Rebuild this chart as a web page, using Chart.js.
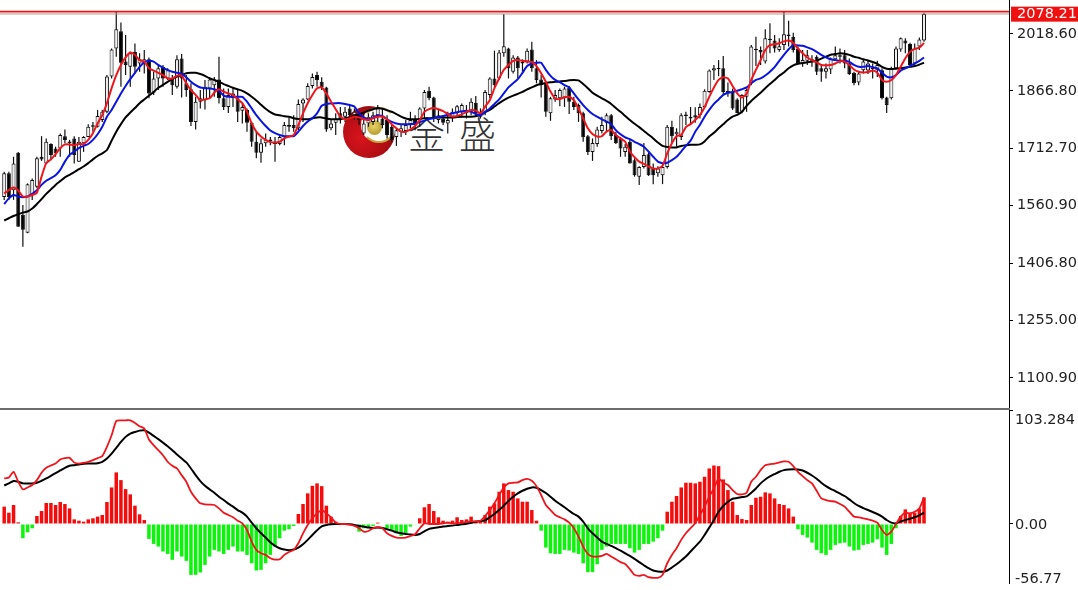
<!DOCTYPE html>
<html>
<head>
<meta charset="utf-8">
<title>K线 MACD</title>
<script src="https://cdn.jsdelivr.net/npm/chart.js@4"></script>
<style>
  html, body { margin: 0; padding: 0; background: #fff; width: 1078px; height: 590px; overflow: hidden; }
  #logo { position: absolute; left: 343px; top: 106px; width: 52px; height: 52px; border-radius: 50%;
          background: radial-gradient(circle at 35% 60%, #d8141c 0%, #b00d14 55%, #6e0a10 100%); }
  #logoCut { position: absolute; left: 361px; top: 107px; width: 36px; height: 36px; border-radius: 50%; background: #fff;
             box-sizing: border-box; border: 2px solid transparent; border-top-color: #c9a93a; border-bottom-color: #c9a93a; }
  #logoBall { position: absolute; left: 367px; top: 120px; width: 15px; height: 15px; border-radius: 50%;
              background: radial-gradient(circle at 45% 40%, #e8d468, #a8891e); }
  .mark { position: absolute; top: 111px; font: 300 37px "Noto Sans CJK SC"; line-height: 44px; color: #333; }
  #pricePane { position: absolute; left: 0; top: 0; width: 1078px; height: 408px; }
  #sep { position: absolute; left: 0; top: 408px; width: 1010px; height: 2px; background: #6d6d6d; }
  #macdPane { position: absolute; left: 0; top: 410px; width: 1078px; height: 174px; overflow: hidden; }
</style>
</head>
<body>
<div id="logo"></div><div id="logoCut"></div><div id="logoBall"></div>
<div class="mark" style="left:408px">金</div>
<div class="mark" style="left:459px">盛</div>
<div id="pricePane"><canvas id="chartPrice" width="1078" height="408"></canvas></div>
<div id="sep"></div>
<div id="macdPane"><canvas id="chartMacd" width="1078" height="177"></canvas></div>

<script>
// --- price pane ---
const highs = [1651,1651,1691,1704,1562,1620,1633,1691,1746,1740,1727,1718,1753,1764,1736,1746,1744,1746,1778,1784,1816,1816,1909,1980,2078,2049,2016,1971,1993,1967,1976,1956,1918,1936,1936,1927,1909,1962,1965,1909,1887,1851,1869,1896,1904,1904,1958,1873,1873,1876,1869,1833,1820,1784,1758,1740,1753,1744,1744,1749,1784,1796,1802,1844,1847,1887,1913,1918,1903,1878,1789,1807,1824,1824,1829,1820,1811,1807,1807,1811,1829,1820,1802,1776,1767,1776,1789,1811,1802,1823,1869,1878,1851,1816,1802,1811,1820,1829,1833,1829,1847,1853,1820,1869,1903,1974,1976,2072,1982,1962,1960,1951,1980,1998,1949,1909,1891,1851,1869,1873,1878,1880,1851,1833,1811,1749,1740,1771,1798,1807,1805,1758,1744,1725,1736,1687,1666,1728,1702,1673,1666,1673,1776,1787,1767,1807,1811,1824,1823,1833,1871,1924,1936,1949,1960,1889,1873,1847,1858,1873,1989,2011,1985,2031,2047,2016,2007,2078,2054,2022,1985,1976,1976,1962,1962,1936,1940,1956,1985,1980,1976,1953,1918,1918,1949,1949,1940,1947,1927,1851,1931,1985,2009,2007,1995,1993,2009,2075];
const lows = [1576,1576,1576,1504,1451,1487,1576,1607,1680,1673,1682,1691,1691,1727,1691,1673,1678,1704,1743,1758,1769,1784,1807,1900,1958,1878,1909,1878,1913,1918,1913,1847,1856,1869,1878,1896,1856,1873,1849,1851,1773,1764,1820,1817,1847,1851,1833,1816,1808,1824,1784,1780,1758,1718,1687,1675,1718,1722,1678,1722,1722,1758,1758,1762,1784,1842,1873,1878,1869,1758,1762,1749,1780,1784,1793,1789,1776,1749,1771,1776,1784,1767,1740,1731,1720,1744,1749,1767,1762,1771,1793,1842,1784,1780,1776,1753,1784,1798,1796,1793,1802,1800,1793,1802,1847,1876,1896,1958,1900,1913,1900,1918,1940,1918,1887,1849,1798,1787,1838,1826,1824,1805,1816,1784,1731,1696,1680,1718,1753,1758,1736,1725,1691,1691,1673,1638,1616,1660,1640,1618,1638,1618,1660,1727,1718,1736,1776,1780,1782,1793,1820,1862,1896,1906,1856,1851,1816,1807,1807,1811,1882,1933,1936,1940,1967,1969,1971,1976,1985,1969,1938,1931,1936,1931,1909,1891,1900,1912,1947,1940,1927,1909,1882,1882,1913,1912,1900,1904,1844,1808,1844,1924,1971,1967,1931,1936,1976,1998];
const opens = [1584,1647,1602,1702,1536,1488,1589,1611,1691,1673,1725,1713,1713,1746,1732,1740,1678,1727,1744,1771,1771,1789,1811,1905,1980,2026,1945,1931,1971,1940,1940,1951,1862,1900,1931,1900,1900,1878,1953,1887,1871,1784,1838,1842,1873,1882,1897,1847,1824,1847,1847,1814,1816,1782,1731,1702,1727,1737,1725,1725,1744,1771,1776,1767,1833,1844,1880,1909,1891,1876,1767,1782,1807,1798,1820,1802,1802,1753,1780,1784,1802,1793,1789,1771,1744,1758,1760,1778,1789,1789,1820,1867,1849,1789,1793,1780,1798,1808,1811,1816,1811,1835,1811,1811,1856,1900,1900,1967,1980,1918,1956,1945,1945,1977,1927,1897,1887,1807,1844,1847,1849,1876,1838,1829,1807,1746,1704,1725,1760,1782,1802,1749,1740,1704,1731,1682,1638,1664,1698,1660,1647,1642,1664,1771,1751,1744,1800,1798,1802,1802,1824,1864,1921,1925,1927,1867,1864,1844,1811,1851,1887,1979,1976,1945,2006,2001,1976,1989,2017,2011,1980,1940,1947,1951,1958,1927,1918,1924,1951,1958,1962,1940,1915,1889,1922,1921,1928,1922,1922,1849,1847,1927,1977,2001,1992,1940,1985,2001];
const closes = [1647,1584,1673,1504,1496,1618,1629,1687,1684,1731,1696,1700,1749,1736,1728,1696,1731,1744,1771,1775,1800,1811,1905,1977,2031,1942,1936,1967,1931,1951,1951,1860,1900,1927,1900,1922,1882,1951,1900,1869,1784,1838,1847,1878,1897,1897,1847,1824,1856,1860,1811,1824,1782,1731,1702,1727,1737,1732,1728,1744,1776,1776,1767,1832,1844,1880,1904,1896,1876,1764,1780,1793,1789,1811,1802,1811,1789,1780,1798,1802,1820,1776,1749,1736,1762,1767,1776,1789,1776,1820,1864,1847,1793,1802,1782,1789,1811,1826,1829,1807,1838,1807,1798,1864,1900,1882,1969,1986,1927,1956,1927,1940,1974,1927,1896,1882,1811,1847,1856,1869,1873,1838,1824,1807,1743,1704,1728,1764,1776,1802,1746,1728,1713,1718,1673,1642,1664,1696,1642,1642,1660,1664,1771,1746,1758,1802,1804,1793,1796,1824,1867,1921,1927,1928,1864,1860,1820,1808,1856,1869,1985,1976,1969,2007,2002,1980,1986,2018,2013,1976,1940,1949,1962,1947,1918,1918,1927,1953,1962,1962,1940,1912,1887,1913,1945,1940,1925,1936,1847,1829,1927,1980,2007,1993,1936,1980,2004,2072];
const maRed = [1593,1602,1609,1601,1585,1585,1589,1595,1638,1674,1684,1698,1714,1724,1724,1722,1725,1725,1736,1754,1780,1802,1834,1874,1909,1936,1956,1969,1963,1949,1945,1927,1921,1915,1909,1900,1900,1907,1907,1887,1869,1856,1842,1844,1847,1862,1871,1865,1860,1856,1844,1834,1811,1780,1758,1745,1736,1730,1729,1731,1740,1745,1749,1776,1807,1834,1856,1874,1876,1860,1838,1818,1798,1791,1794,1798,1796,1791,1789,1794,1798,1798,1791,1778,1767,1758,1758,1764,1773,1789,1811,1818,1821,1818,1813,1805,1798,1800,1804,1811,1816,1814,1807,1825,1842,1874,1900,1923,1936,1947,1949,1947,1945,1944,1933,1914,1891,1865,1847,1845,1850,1851,1842,1820,1794,1767,1752,1745,1746,1758,1762,1749,1740,1731,1705,1690,1678,1672,1665,1660,1660,1667,1700,1727,1746,1749,1770,1778,1789,1802,1823,1851,1876,1896,1903,1900,1880,1860,1849,1859,1896,1923,1949,1976,1989,1991,1994,1999,2001,1995,1980,1967,1956,1949,1943,1936,1935,1936,1940,1946,1945,1936,1924,1918,1916,1917,1921,1915,1896,1891,1896,1909,1931,1954,1971,1979,1982,1995];
const maBlue = [1565,1580,1589,1585,1583,1585,1592,1602,1616,1627,1634,1642,1656,1678,1696,1705,1714,1720,1725,1736,1751,1771,1798,1816,1838,1860,1880,1898,1915,1931,1943,1947,1945,1936,1929,1923,1918,1915,1912,1903,1891,1882,1876,1874,1873,1871,1867,1854,1851,1851,1851,1851,1838,1820,1802,1787,1773,1761,1754,1749,1746,1746,1746,1758,1773,1785,1794,1807,1827,1832,1833,1834,1834,1832,1829,1825,1807,1796,1791,1796,1801,1800,1791,1784,1780,1778,1778,1778,1780,1784,1787,1792,1794,1797,1800,1803,1807,1810,1812,1814,1811,1805,1802,1811,1820,1832,1844,1860,1876,1887,1898,1915,1933,1940,1942,1942,1923,1907,1896,1890,1882,1876,1860,1844,1829,1816,1805,1798,1791,1785,1778,1762,1751,1743,1738,1731,1725,1718,1705,1691,1678,1674,1675,1682,1691,1705,1720,1734,1758,1776,1798,1816,1832,1844,1856,1862,1864,1867,1871,1876,1887,1896,1900,1908,1918,1930,1947,1963,1978,1989,1988,1987,1983,1978,1971,1963,1956,1951,1949,1947,1947,1944,1936,1931,1931,1933,1930,1927,1915,1905,1903,1909,1921,1927,1933,1940,1947,1956];
const maBlack = [1521,1527,1533,1538,1542,1545,1553,1565,1578,1592,1604,1616,1626,1636,1643,1650,1658,1665,1674,1684,1693,1700,1709,1734,1758,1778,1796,1809,1821,1834,1844,1854,1864,1875,1883,1891,1899,1905,1909,1914,1915,1915,1912,1907,1900,1896,1891,1885,1880,1875,1871,1867,1860,1851,1841,1830,1819,1810,1804,1802,1799,1798,1794,1792,1791,1791,1794,1796,1796,1793,1791,1791,1791,1794,1796,1800,1804,1809,1814,1818,1821,1819,1815,1811,1805,1798,1793,1791,1791,1792,1794,1794,1795,1796,1796,1796,1796,1797,1798,1798,1798,1799,1802,1810,1816,1825,1834,1842,1849,1854,1859,1864,1871,1876,1882,1885,1888,1890,1891,1892,1893,1895,1896,1895,1885,1874,1862,1854,1847,1840,1832,1821,1811,1800,1789,1779,1770,1760,1750,1740,1729,1720,1717,1716,1716,1720,1722,1723,1723,1724,1732,1745,1755,1767,1778,1789,1798,1803,1811,1827,1840,1851,1862,1874,1885,1896,1907,1916,1927,1935,1939,1941,1943,1945,1947,1953,1958,1963,1965,1967,1966,1963,1958,1955,1951,1948,1944,1939,1931,1926,1925,1926,1927,1929,1931,1933,1937,1942];
const lastPrice = 2078.21;
const bidPrice = 2072;
const priceTicks = [2018.6, 1866.8, 1712.7, 1560.9, 1406.8, 1255.0, 1100.9];

// --- MACD pane ---
const macdHist = [15.8,10.3,17.3,1.5,-13.0,-7.6,-3.9,7.3,11.8,19.1,19.1,17.3,20.0,18.2,14.2,4.2,3.0,2.1,4.2,5.2,6.7,8.2,20.0,33.3,47.0,40.0,31.8,27.0,16.7,8.8,3.6,-13.6,-18.2,-20.6,-25.1,-27.3,-32.7,-25.1,-29.7,-33.6,-46.4,-46.4,-44.2,-37.3,-29.7,-23.6,-25.1,-27.3,-23.6,-20.6,-25.1,-25.1,-28.2,-35.8,-42.4,-41.8,-35.8,-28.2,-20.6,-13.0,-6.1,-4.8,-1.8,9.1,18.2,27.9,34.8,37.0,34.5,16.7,6.7,2.1,0.3,0.3,-0.9,-1.8,-7.0,-3.9,-3.0,-1.8,1.2,0,-3.9,-6.1,-8.5,-10.9,-8.5,-2.4,-0.6,5.2,15.2,18.2,11.8,6.1,3.0,2.1,3.0,6.1,3.6,4.2,6.7,3.0,3.6,8.2,15.8,18.8,29.4,37.0,30.9,29.4,23.3,20.3,20.3,12.7,3.0,-6.1,-21.5,-26.7,-27.3,-27.3,-23.6,-24.2,-26.1,-27.3,-35.8,-43.9,-43.9,-36.7,-23.6,-20.6,-18.2,-18.2,-18.2,-18.2,-22.1,-26.1,-23.6,-18.2,-18.2,-16.1,-13.0,-6.1,11.2,20.3,25.5,33.3,37.6,37.6,37.0,38.5,43.0,50.6,53.3,52.7,40.6,30.9,20.3,8.2,4.5,3.6,17.3,23.9,24.8,28.8,27.9,23.3,18.2,17.3,14.2,6.7,-4.8,-10.0,-12.4,-17.0,-23.6,-26.7,-28.2,-23.6,-19.1,-17.6,-17.0,-20.6,-24.2,-23.6,-19.1,-18.2,-17.0,-13.9,-21.5,-28.2,-18.2,-3.9,7.3,13.3,10.3,10.3,14.2,24.2];
const macdFast = [41.5,42.4,47.6,38.5,31.5,33.3,35.5,40.0,46.7,51.2,53.3,55.1,58.8,60.0,60.3,56.1,55.1,55.8,56.7,58.2,60.0,61.8,70.3,80.9,93.9,94.5,94.5,94.5,92.1,89.1,87.0,77.0,71.8,67.3,62.7,56.7,53.0,50.6,44.5,38.5,29.4,23.3,18.8,17.9,17.6,17.3,14.2,10.3,8.2,6.1,3.0,0.6,-5.5,-16.1,-23.6,-26.7,-28.2,-31.2,-32.4,-32.1,-28.2,-25.5,-23.6,-17.6,-8.5,-0.9,5.2,9.7,12.7,9.7,6.1,1.2,0,0,-0.6,-1.8,-3.9,-7.0,-6.4,-3.9,-3.0,-3.9,-8.5,-10.9,-12.4,-12.7,-12.4,-10.9,-9.4,-3.9,0.6,0,0,0,0.6,1.2,0.6,0.6,1.2,1.8,2.4,2.4,3.0,7.3,12.7,18.8,26.4,33.3,37.0,37.6,37.9,40.0,41.2,39.4,34.5,26.4,17.3,12.7,8.2,6.1,4.2,1.2,-3.9,-11.5,-20.6,-27.3,-29.7,-29.7,-29.1,-27.3,-29.7,-32.1,-34.8,-36.4,-41.2,-46.4,-47.3,-46.4,-48.5,-49.1,-49.1,-46.4,-35.8,-28.2,-22.1,-14.5,-8.5,-3.9,0.6,8.2,15.8,24.8,32.4,41.5,37.6,35.5,30.9,27.3,27.0,28.5,38.5,43.0,49.1,53.6,54.5,55.1,56.1,57.0,56.7,52.7,47.6,43.6,40.0,37.0,30.3,23.3,21.8,20.9,20.3,18.2,15.8,11.2,6.7,6.1,5.2,4.2,3.0,1.2,-5.5,-10.0,-7.0,0,6.7,10.3,9.7,11.2,14.2,24.2];
const macdSignal = [35.1,37.0,39.1,38.5,37.0,37.0,37.0,37.6,39.4,41.5,43.9,46.4,48.8,51.2,53.0,53.6,54.2,54.8,55.1,55.1,55.4,56.7,59.7,64.2,69.4,74.8,79.4,82.4,83.9,85.1,85.4,83.3,80.3,77.3,74.2,70.9,67.3,63.3,59.7,56.1,50.6,44.5,39.1,34.8,31.5,28.5,24.8,21.8,18.5,15.8,12.7,10.3,6.7,1.2,-3.9,-8.5,-12.4,-16.7,-20.0,-22.1,-23.3,-23.9,-23.3,-21.5,-18.5,-14.5,-10.0,-5.8,-2.1,-0.9,-0.3,0,0,0,-0.3,-0.9,-1.8,-2.4,-3.3,-3.6,-3.3,-3.6,-4.8,-6.1,-7.6,-8.5,-9.1,-9.7,-10.0,-9.1,-6.7,-4.5,-3.6,-3.0,-2.4,-1.8,-1.5,-0.9,-0.3,0.3,1.2,2.1,2.7,3.3,6.1,9.1,12.7,16.7,20.9,24.8,27.9,30.3,32.1,33.3,33.0,30.9,28.2,24.8,21.2,18.2,15.2,12.1,9.1,6.7,2.1,-3.9,-8.5,-12.4,-16.1,-18.2,-20.0,-22.1,-24.2,-26.7,-29.1,-31.8,-34.8,-37.6,-40.3,-42.4,-43.3,-43.6,-42.4,-39.7,-36.7,-33.3,-29.7,-25.1,-20.6,-16.1,-10.0,-3.3,3.6,11.2,16.4,20.3,23.0,23.6,24.5,25.1,28.5,32.4,37.0,40.6,43.3,45.5,47.6,49.1,49.7,50.0,49.7,48.8,46.7,44.2,41.2,37.6,34.5,32.1,30.0,27.6,25.5,22.4,19.1,16.4,14.5,12.7,10.9,9.1,6.7,3.6,1.2,0.6,2.4,3.6,4.8,6.1,7.9,10.3];
const macdTicks = [103.284, 0, -56.77];
const macdTickLabels = ["103.284", "0.00", "-56.77"];

const AXIS_FONT = { family: "DejaVu Sans", size: 14.5 };

function onX(arr) { return arr.map((v, i) => ({ x: i, y: v })); }
function flat(v) { return [{ x: -2, y: v }, { x: 220, y: v }]; }

// x scale: 4.67px per bar, empty room left of the axis like the terminal
const xScale = { type: "linear", display: false, offset: false, min: -0.9, max: 215.2 };

function rightAxis(min, max, ticks, labels, showLabels) {
  return {
    position: "right", min, max,
    afterFit: s => { s.width = 69; s.paddingTop = 0; s.paddingBottom = 0; },
    afterBuildTicks: s => { s.ticks = ticks.map(v => ({ value: v })); },
    border: { color: "#000", width: 1 },
    grid: { drawOnChartArea: false, color: "#000", tickLength: 4 },
    ticks: {
      display: showLabels, autoSkip: false, padding: 4, color: "#222", font: AXIS_FONT,
      callback: (v, i) => labels[i]
    }
  };
}

// red box with the last price on the axis
const lastPriceBox = {
  id: "lastPriceBox",
  afterDraw(c) {
    const y = c.scales.y.getPixelForValue(lastPrice);
    const ctx = c.ctx;
    ctx.save();
    ctx.fillStyle = "#f01010";
    ctx.fillRect(1011, y - 5, 67, 15);
    ctx.fillStyle = "#fff";
    ctx.font = "14.5px 'DejaVu Sans'";
    ctx.textBaseline = "middle";
    ctx.fillText(lastPrice.toFixed(2), 1017, y + 3);
    ctx.restore();
  }
};

// end labels of the MACD pane sit inside the pane, not on their tick
const macdLabels = {
  id: "macdLabels",
  afterDraw(c) {
    const s = c.scales.y, ctx = c.ctx;
    ctx.save();
    ctx.fillStyle = "#222";
    ctx.font = "14.5px 'DejaVu Sans'";
    ctx.textBaseline = "middle";
    macdTicks.forEach((v, i) => {
      const y = Math.min(Math.max(s.getPixelForValue(v), 9), 168);
      ctx.fillText(macdTickLabels[i], 1015, y + 1);
    });
    ctx.restore();
  }
};

const commonOpts = {
  responsive: false,
  animation: false,
  layout: { padding: 0 },
  plugins: { legend: { display: false }, tooltip: { enabled: false } }
};

new Chart(document.getElementById("chartPrice"), {
  data: {
    datasets: [
      { type: "line", data: flat(lastPrice), borderColor: "#f01414", borderWidth: 1.6, pointRadius: 0, order: 0 },
      { type: "line", data: flat(bidPrice), borderColor: "#a89c9c", borderWidth: 1, pointRadius: 0, order: 5 },
      { type: "line", data: onX(maRed), borderColor: "#f0141c", borderWidth: 2, pointRadius: 0, tension: 0.2, order: 1 },
      { type: "line", data: onX(maBlue), borderColor: "#0a14e0", borderWidth: 2, pointRadius: 0, tension: 0.2, order: 2 },
      { type: "line", data: onX(maBlack), borderColor: "#000", borderWidth: 2, pointRadius: 0, tension: 0.2, order: 3 },
      // candles: floating bars for wick and body
      { type: "bar", data: highs.map((h, i) => ({ x: i, y: [lows[i], h] })), backgroundColor: "#111",
        barThickness: 1.2, grouped: false, inflateAmount: 0, order: 7 },
      { type: "bar", data: opens.map((o, i) => ({ x: i, y: [o, closes[i]] })),
        backgroundColor: ctx => closes[ctx.dataIndex] >= opens[ctx.dataIndex] ? "#efefef" : "#000",
        borderColor: "#111", borderWidth: 1, borderSkipped: false,
        barThickness: 4, grouped: false, inflateAmount: 0, order: 6 }
    ]
  },
  options: {
    ...commonOpts,
    scales: {
      x: xScale,
      y: rightAxis(1020.7, 2109.3, priceTicks, priceTicks.map(v => v.toFixed(2)), true)
    }
  },
  plugins: [lastPriceBox]
});

new Chart(document.getElementById("chartMacd"), {
  data: {
    datasets: [
      { type: "line", data: onX(macdFast), borderColor: "#f0141c", borderWidth: 1.8, pointRadius: 0, tension: 0.2, order: 1 },
      { type: "line", data: onX(macdSignal), borderColor: "#000", borderWidth: 2, pointRadius: 0, tension: 0.2, order: 2 },
      { type: "bar", data: onX(macdHist),
        backgroundColor: ctx => macdHist[ctx.dataIndex] >= 0 ? "#f40c0c" : "#0cf40c",
        barThickness: 3.5, grouped: false, inflateAmount: 0, order: 3 }
    ]
  },
  options: {
    ...commonOpts,
    scales: {
      x: xScale,
      y: rightAxis(-57.45, 103.9, macdTicks, macdTickLabels, false)
    }
  },
  plugins: [macdLabels]
});
</script>
</body>
</html>
